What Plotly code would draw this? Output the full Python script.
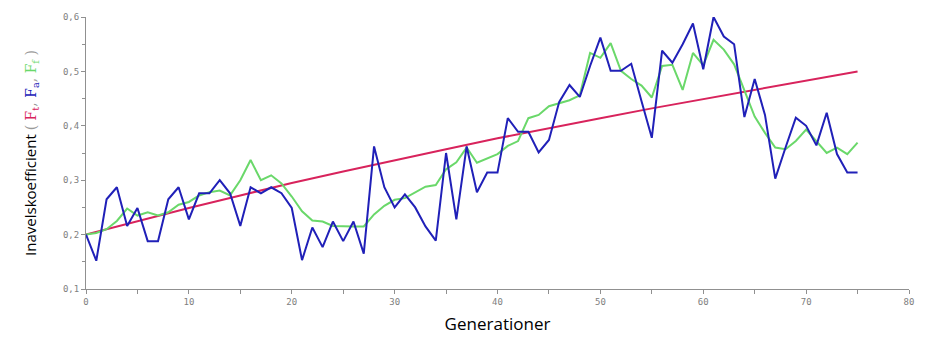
import plotly.graph_objects as go

# Generations
gen = list(range(0, 76))

# F_a (blue)
fa = [0.200, 0.152, 0.265, 0.287, 0.216, 0.249, 0.188, 0.188, 0.265, 0.287,
      0.228, 0.276, 0.276, 0.300, 0.276, 0.216, 0.287, 0.276, 0.287, 0.276,
      0.249, 0.153, 0.213, 0.177, 0.224, 0.188, 0.224, 0.165, 0.362, 0.287,
      0.250, 0.274, 0.250, 0.215, 0.189, 0.350, 0.228, 0.362, 0.278, 0.314,
      0.314, 0.414, 0.389, 0.389, 0.351, 0.374, 0.444, 0.475, 0.453, 0.510,
      0.562, 0.501, 0.501, 0.514, 0.445, 0.378, 0.538, 0.516, 0.550, 0.588,
      0.504, 0.600, 0.564, 0.550, 0.416, 0.486, 0.420, 0.303, 0.360, 0.415,
      0.400, 0.364, 0.424, 0.348, 0.314, 0.314]

# F_f (green)
ff = [0.200, 0.203, 0.210, 0.225, 0.248, 0.235, 0.241, 0.235, 0.241, 0.255,
      0.260, 0.272, 0.278, 0.281, 0.272, 0.300, 0.337, 0.300, 0.309, 0.294,
      0.270, 0.243, 0.226, 0.224, 0.216, 0.215, 0.215, 0.215, 0.237, 0.253,
      0.264, 0.267, 0.278, 0.288, 0.291, 0.320, 0.333, 0.360, 0.332, 0.340,
      0.348, 0.363, 0.372, 0.414, 0.420, 0.436, 0.442, 0.447, 0.456, 0.534,
      0.525, 0.552, 0.501, 0.486, 0.474, 0.452, 0.510, 0.512, 0.466, 0.534,
      0.511, 0.558, 0.540, 0.513, 0.465, 0.417, 0.387, 0.360, 0.357, 0.372,
      0.393, 0.372, 0.350, 0.360, 0.348, 0.369]

# F_t (red) – every 5 generations
ft_gen = [0, 5, 10, 15, 20, 25, 30, 35, 40, 45, 50, 55, 60, 65, 70, 75]
ft = [0.200, 0.225, 0.249, 0.272, 0.295, 0.316, 0.337, 0.357, 0.377, 0.396,
      0.414, 0.432, 0.449, 0.467, 0.483, 0.500]

RED = "#d8235c"
BLUE = "#2020b8"
GREEN = "#6ad86a"

fig = go.Figure()
fig.add_trace(go.Scatter(x=ft_gen, y=ft, mode="lines", line=dict(color=RED, width=2), name="Ft"))
fig.add_trace(go.Scatter(x=gen, y=ff, mode="lines", line=dict(color=GREEN, width=2), name="Ff"))
fig.add_trace(go.Scatter(x=gen, y=fa, mode="lines", line=dict(color=BLUE, width=2), name="Fa"))

tickfont = dict(family="DejaVu Sans Mono", size=9, color="#808080")

ytitle = ("Inavelskoefficient "
          "<span style='font-family:DejaVu Serif;font-size:14px;color:#999999'>( </span>"
          f"<span style='font-family:DejaVu Serif;font-size:14px;color:{RED}'>F<sub>t</sub></span>"
          "<span style='font-family:DejaVu Serif;font-size:14px;color:#999999'>, </span>"
          f"<span style='font-family:DejaVu Serif;font-size:14px;color:{BLUE}'>F<sub>a</sub></span>"
          "<span style='font-family:DejaVu Serif;font-size:14px;color:#999999'>, </span>"
          f"<span style='font-family:DejaVu Serif;font-size:14px;color:{GREEN}'>F<sub>f</sub></span>"
          "<span style='font-family:DejaVu Serif;font-size:14px;color:#999999'> )</span>")

fig.update_layout(
    width=926, height=343,
    margin=dict(l=86, r=16, t=15, b=50),
    paper_bgcolor="white", plot_bgcolor="white",
    showlegend=False,
    separators=",.",
    font=dict(family="Open Sans", color="black"),
    xaxis=dict(
        range=[0, 80], dtick=10, tick0=0,
        showgrid=False, zeroline=False,
        showline=True, linecolor="#909090", linewidth=1,
        ticks="outside", ticklen=4, tickcolor="#909090",
        minor=dict(dtick=5, ticks="outside", ticklen=4, tickcolor="#909090"),
        tickfont=tickfont,
        title=dict(text="Generationer", font=dict(size=17, family="Open Sans", color="black"), standoff=12),
    ),
    yaxis=dict(
        range=[0.1, 0.6], dtick=0.1, tick0=0.1, tickformat=".1f",
        showgrid=False, zeroline=False,
        showline=True, linecolor="#909090", linewidth=1,
        ticks="outside", ticklen=4, tickcolor="#909090",
        minor=dict(dtick=0.05, ticks="outside", ticklen=3, tickcolor="#909090"),
        tickfont=tickfont,
        title=dict(text=ytitle, font=dict(size=15, family="Open Sans", color="black"), standoff=22),
    ),
)

fig.write_html("out.html")
